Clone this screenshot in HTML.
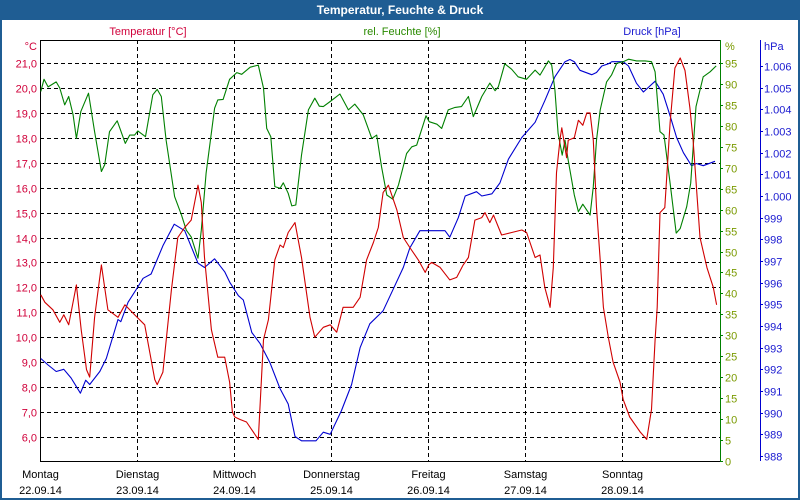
<!DOCTYPE html>
<html><head><meta charset="utf-8"><style>
body{margin:0;background:#fff;}
#wrap{position:relative;width:800px;height:500px;overflow:hidden;font-family:"Liberation Sans",sans-serif;}
</style></head><body>
<div id="wrap">
<svg id="svg" width="800" height="500" xmlns="http://www.w3.org/2000/svg" style="position:absolute;left:0;top:0">
<rect x="0" y="0" width="800" height="500" fill="#1f5d93"/>
<rect x="2" y="20" width="796" height="478" fill="#ffffff"/>
<text x="400" y="14" text-anchor="middle" fill="#ffffff" font-size="12" font-weight="bold">Temperatur, Feuchte &amp; Druck</text>
<text x="148" y="35" text-anchor="middle" fill="#d0003a" font-size="11">Temperatur [°C]</text>
<text x="402" y="35" text-anchor="middle" fill="#2a8a00" font-size="11">rel. Feuchte [%]</text>
<text x="652" y="35" text-anchor="middle" fill="#1a1ad0" font-size="11">Druck [hPa]</text>
<text x="37" y="50" text-anchor="end" fill="#d0003a" font-size="11">°C</text>
<text x="725" y="50" fill="#7a9a00" font-size="11">%</text>
<text x="764" y="50" fill="#1a1ad0" font-size="11">hPa</text>
<g id="grid"></g><g id="axes"></g><g id="series"></g><g id="labels"></g>
</svg>
</div>
<script>
const days=["Montag","Dienstag","Mittwoch","Donnerstag","Freitag","Samstag","Sonntag"];
const dates=["22.09.14","23.09.14","24.09.14","25.09.14","26.09.14","27.09.14","28.09.14"];
const tempTicks=[21,20,19,18,17,16,15,14,13,12,11,10,9,8,7,6];
const humTicks=[95,90,85,80,75,70,65,60,55,50,45,40,35,30,25,20,15,10,5,0];
const presTicks=[1006,1005,1004,1003,1002,1001,1000,999,998,997,996,995,994,993,992,991,990,989,988];
const tempHours=[0.2,1.2,3.2,4.9,5.9,7.1,9.0,10.2,11.5,12.3,13.5,15.2,16.8,19.3,21.0,23.4,25.9,28.4,29.0,30.4,32.5,34.1,35.8,37.4,39.1,39.9,40.7,42.4,44.0,45.7,46.9,47.6,48.2,49.5,51.1,54.0,55.3,56.5,58.1,59.4,60.2,61.4,63.1,64.7,66.8,68.0,70.1,71.8,73.4,75.0,77.5,79.2,80.8,82.5,83.7,84.9,86.2,88.3,89.9,91.5,93.6,95.3,96.2,96.9,99.0,101.4,103.1,104.7,106.0,107.6,109.3,110.1,111.3,112.2,114.2,116.7,119.2,120.4,122.5,123.7,124.9,126.2,127.0,127.8,128.7,129.1,130.3,130.7,132.2,133.2,134.3,135.3,136.1,136.9,137.7,138.6,139.4,140.6,141.8,143.5,144.3,145.9,148.5,150.1,151.3,152.2,152.7,153.4,154.6,155.9,157.1,158.4,159.6,160.8,161.6,163.3,165.0,166.6,167.4];
const tempValues=[11.7,11.4,11.1,10.6,10.9,10.5,12.1,10.3,8.7,8.4,10.8,12.9,11.1,10.8,11.3,10.9,10.5,8.3,8.1,8.6,11.9,14.0,14.4,14.7,16.1,15.4,13.2,10.3,9.2,9.2,8.2,7.0,6.8,6.7,6.6,5.9,9.9,10.7,13.1,13.7,13.6,14.2,14.6,13.2,10.8,10.0,10.4,10.5,10.2,11.2,11.2,11.6,13.1,13.8,14.4,15.8,16.1,15.1,14.0,13.6,13.1,12.6,12.9,13.0,12.8,12.3,12.4,12.9,13.2,14.7,14.8,15.0,14.6,14.9,14.1,14.2,14.3,14.2,13.2,13.3,12.0,11.2,12.8,16.6,18.0,18.4,17.2,17.9,18.0,18.7,18.5,19.0,19.0,17.9,15.2,13.1,11.2,10.0,9.0,8.2,7.5,6.8,6.2,5.9,7.1,9.9,11.2,15.0,15.2,18.6,20.8,21.2,20.7,19.2,17.9,14.0,12.8,12.0,11.3];
const humHours=[0.2,1.0,2.0,4.0,4.9,6.1,7.1,8.2,9.0,10.1,12.0,13.5,15.2,16.0,17.2,19.1,21.1,22.2,23.4,24.2,26.1,27.9,29.0,30.0,31.2,33.3,35.0,36.2,37.4,39.1,39.9,41.1,43.2,44.0,45.3,46.9,48.7,49.9,52.0,54.0,55.3,56.1,57.1,58.1,59.4,60.2,61.4,62.3,63.3,64.7,66.4,68.0,69.1,70.1,71.8,74.2,76.3,77.9,80.0,82.1,83.3,84.5,85.8,87.3,88.7,90.7,92.0,93.2,95.5,96.3,98.2,99.4,101.0,102.7,104.3,106.0,107.2,109.3,111.3,112.6,113.4,115.0,116.7,118.3,120.4,122.5,123.7,125.8,126.6,127.4,128.2,129.2,129.9,130.7,132.2,133.2,134.3,136.1,136.9,137.7,138.6,140.2,141.4,142.7,144.3,145.6,147.6,149.7,151.3,152.2,153.4,154.4,155.9,157.4,158.4,160.0,161.0,162.3,164.1,165.8,167.3];
const humValues=[88.2,91.1,89.3,90.5,89.0,85.0,87.0,82.6,77.0,83.4,87.8,78.6,69.1,70.7,78.6,81.2,75.8,77.8,77.8,78.8,77.4,87.4,88.7,87.0,76.6,63.1,58.7,55.1,53.5,48.4,55.1,68.7,84.2,86.2,86.3,91.1,92.7,92.3,94.0,94.5,89.0,79.4,77.4,65.5,65.1,66.4,63.9,60.9,61.1,73.0,83.8,86.6,84.7,84.6,85.8,87.6,83.8,85.2,82.6,77.0,77.8,70.3,63.5,62.5,65.9,73.4,75.0,75.4,82.4,81.0,80.4,79.4,83.8,84.4,84.6,87.0,82.2,87.0,90.2,88.4,89.3,94.8,93.5,91.7,91.1,93.3,92.1,95.5,94.5,88.6,78.2,73.0,76.6,71.8,63.5,59.5,61.3,58.7,65.5,76.6,83.8,90.5,92.1,94.9,95.3,95.9,95.5,95.5,95.3,92.9,78.6,77.8,66.3,54.4,55.5,60.7,66.3,84.6,91.7,92.9,94.3];
const presHours=[0.2,2.0,4.0,5.9,7.7,10.0,11.3,12.3,14.8,16.4,19.3,20.0,21.8,24.2,25.5,27.5,30.4,33.2,35.8,39.1,40.7,43.2,45.7,47.0,49.1,50.3,52.4,54.4,56.9,59.4,61.4,63.1,64.7,67.6,68.3,70.1,71.8,74.6,77.1,79.2,81.6,84.9,87.4,89.9,91.5,94.0,96.3,100.2,101.4,103.5,105.2,108.0,109.3,111.8,113.8,115.9,119.2,122.5,124.9,127.4,129.9,131.1,132.2,133.6,136.5,137.7,139.0,140.6,141.5,144.3,145.6,147.6,149.3,152.2,154.2,155.9,157.5,159.2,161.2,162.4,164.1,167.0];
const presValues=[992.5,992.2,991.9,992.0,991.6,990.9,991.5,991.3,991.9,992.5,994.3,994.2,995.1,995.8,996.2,996.4,997.7,998.7,998.4,996.9,996.7,997.1,996.5,996.0,995.4,995.2,993.7,993.2,992.3,991.1,990.4,988.9,988.7,988.7,988.7,989.1,989.0,990.1,991.3,993.0,994.1,994.7,995.7,996.7,997.6,998.4,998.4,998.4,998.1,999.0,1000.0,1000.2,1000.0,1000.1,1000.6,1001.7,1002.7,1003.4,1004.4,1005.5,1006.2,1006.3,1006.2,1005.8,1005.6,1005.7,1006.0,1006.1,1006.2,1006.2,1006.0,1005.2,1004.8,1005.3,1004.7,1003.7,1002.7,1002.0,1001.4,1001.5,1001.4,1001.6];

const NS="http://www.w3.org/2000/svg";
const X0=40,X1=720,Y0=40,Y1=461,DAYW=97;
const xOf=h=>X0+h*DAYW/24;
const yTemp=v=>63+(21-v)*24.93;
const yHum=v=>461-v*(398/95);
const yPres=v=>66+(1006-v)*(390/18);
function mk(tag,attrs,parent){const e=document.createElementNS(NS,tag);for(const k in attrs)e.setAttribute(k,attrs[k]);parent.appendChild(e);return e;}
const grid=document.getElementById('grid'),axes=document.getElementById('axes'),series=document.getElementById('series'),labels=document.getElementById('labels');

tempTicks.forEach(v=>{
  const y=Math.round(yTemp(v))+0.5;
  const g=mk('line',{x1:X0,x2:X1,y1:y,y2:y,stroke:'#000','stroke-width':1,'stroke-dasharray':'4,3'},grid);
  
  
  const t=mk('text',{x:37,y:y+4,'text-anchor':'end',fill:'#d0003a','font-size':11},labels);
  t.textContent=v.toFixed(1).replace('.',',');
  
  
});
days.forEach((d,i)=>{
  const x=X0+i*DAYW+0.5;
  if(i>0){
    const g=mk('line',{x1:x,x2:x,y1:Y0,y2:Y1,stroke:'#000','stroke-width':1,'stroke-dasharray':'4,3'},grid);
    
    
  }
  const t1=mk('text',{x:x,y:478,'text-anchor':'middle',fill:'#000','font-size':11},labels);
  t1.textContent=d;
  
  
  const t2=mk('text',{x:x,y:494,'text-anchor':'middle',fill:'#000','font-size':11},labels);
  t2.textContent=dates[i];
  
  
});
humTicks.forEach(v=>{
  const y=Math.round(yHum(v))+0.5;
  const tk=mk('line',{x1:X1,x2:X1+3,y1:y,y2:y,stroke:'#008000'},axes);
  
  
  const t=mk('text',{x:725,y:y+4,fill:'#7a9a00','font-size':11},labels);
  t.textContent=v;
  
  
});
presTicks.forEach(v=>{
  const y=Math.round(yPres(v))+0.5;
  const tk=mk('line',{x1:760,x2:763,y1:y,y2:y,stroke:'#0000d0'},axes);
  
  
  const t=mk('text',{x:764,y:y+4,fill:'#1a1ad0','font-size':11},labels);
  t.textContent=v>=1000?('1.'+String(v-1000).padStart(3,'0')):String(v);
  
  
});
const a1=mk('line',{x1:X0+0.5,x2:X0+0.5,y1:Y0,y2:Y1,stroke:'#000'},axes);


const a2=mk('line',{x1:X0,x2:X1,y1:Y0+0.5,y2:Y0+0.5,stroke:'#000'},axes);


const a3=mk('line',{x1:X0,x2:X1,y1:Y1+0.5,y2:Y1+0.5,stroke:'#000'},axes);


const a4=mk('line',{x1:X1+0.5,x2:X1+0.5,y1:Y0,y2:Y1+1,stroke:'#008000'},axes);


const a5=mk('line',{x1:760.5,x2:760.5,y1:Y0,y2:Y1,stroke:'#0000d0'},axes);



function line(hours,vals,yf,color,name){
  const pts=hours.map((h,i)=>xOf(h).toFixed(1)+','+yf(vals[i]).toFixed(1)).join(' ');
  const p=mk('polyline',{points:pts,fill:'none',stroke:color,'stroke-width':1.1,'stroke-linejoin':'round'},series);
  
  
}
line(presHours,presValues,yPres,'#0000d0','pressure-line');
line(humHours,humValues,yHum,'#008000','humidity-line');
line(tempHours,tempValues,yTemp,'#d00000','temperature-line');
</script>
</body></html>
